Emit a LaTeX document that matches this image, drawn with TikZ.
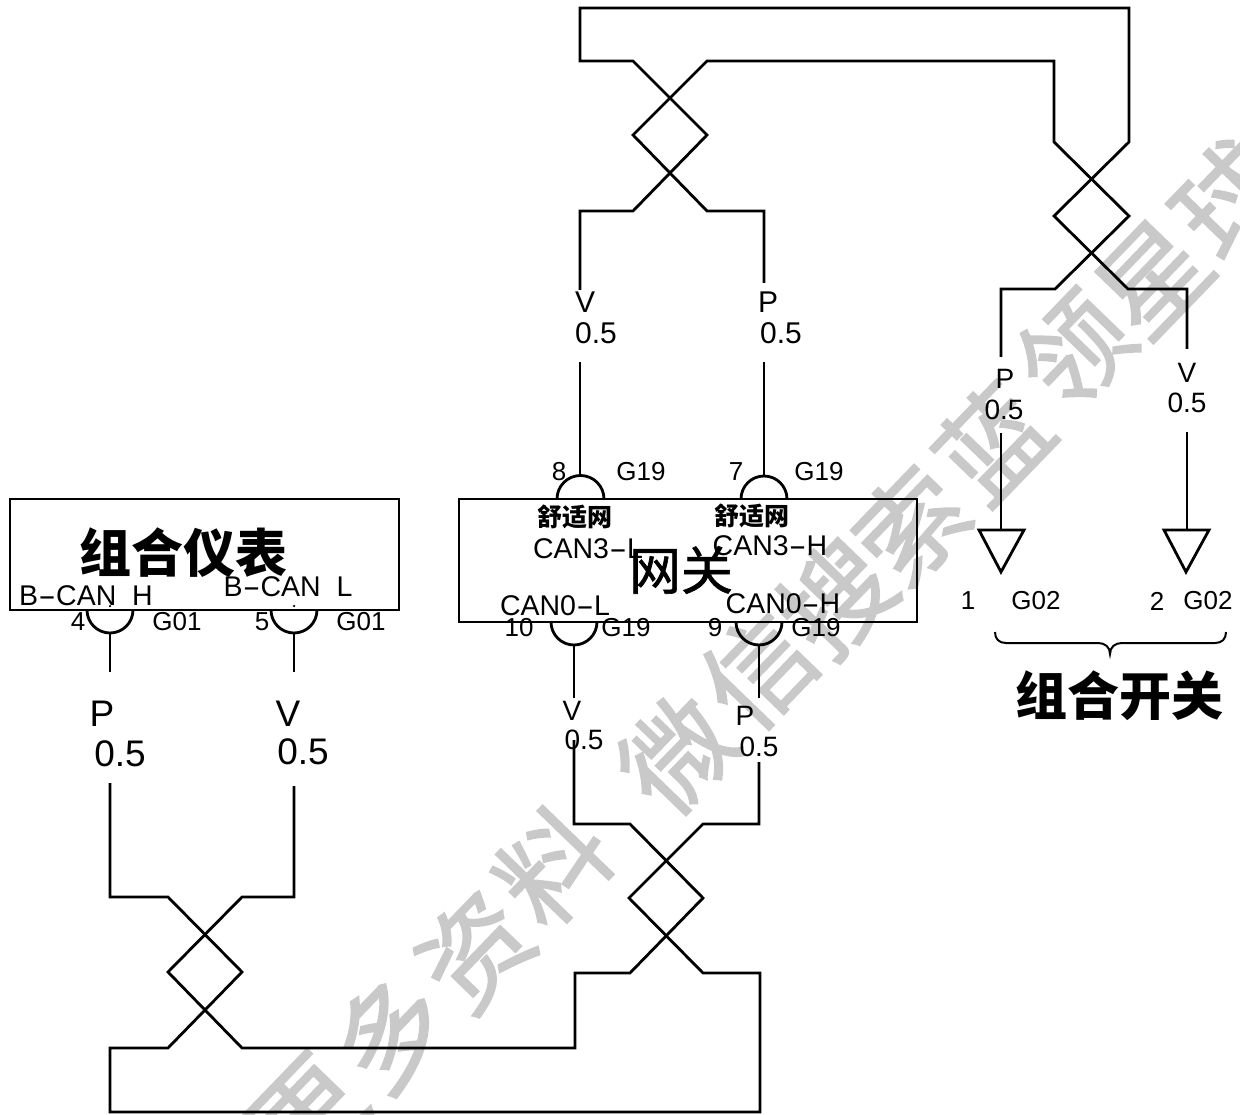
\documentclass[tikz,border=0pt]{standalone}
\usepackage{fontspec}
\setmainfont{Liberation Sans}
\newfontfamily\cjk{Noto Sans CJK SC}
\newfontfamily\wmk[FakeBold=1.6]{Noto Sans CJK SC}
\newfontfamily\gwf[FakeBold=1.2]{Noto Sans CJK SC}
\newcommand{\hy}{\scalebox{1.9}[1]{-}}
\newcommand{\fsz}[1]{\fontsize{#1}{#1}\selectfont}
\tikzset{
  wire/.style={line width=2.8pt,line join=miter,black},
  tag/.style={inner sep=0pt,font=\fsz{26}},
  wide/.style={inner sep=0pt,font=\fsz{28.5}},
  big/.style={inner sep=0pt,font=\fsz{37}},
  mid/.style={inner sep=0pt,font=\fsz{30}},
  sml/.style={inner sep=0pt,font=\fsz{28}},
  titletext/.style={inner sep=0pt,font=\cjk\bfseries\fsz{52}},
  gatetext/.style={inner sep=0pt,font=\gwf\fsz{52}},
  comfort/.style={inner sep=0pt,font=\cjk\bfseries\fsz{25}},
  wmark/.style={inner sep=0pt,rotate=46,text=black!21,font=\wmk\fsz{108}},
  dotmark/.style={fill=black,inner sep=0pt,minimum size=2.5pt,circle}
}
\begin{document}
\begin{tikzpicture}[x=1pt,y=-1pt]
\useasboundingbox (0,0) rectangle (1240,1115);
% watermark
\node[wmark] (w1) at (308,1115) {更};
\node[wmark] (w2) at (390,1033) {多};
\node[wmark] (w3) at (475,951) {资};
\node[wmark] (w4) at (553,866) {料};
\node[wmark] (w5) at (677,754) {微};
\node[wmark] (w6) at (758,670) {信};
\node[wmark] (w7) at (836,598) {搜};
\node[wmark] (w8) at (911,525) {索};
\node[wmark] (w9) at (992,442) {蓝};
\node[wmark] (w10) at (1074,350) {领};
\node[wmark] (w11) at (1153,278) {星};
\node[wmark] (w12) at (1230,198) {球};
% boxes
\coordinate (ia) at (10,499); \coordinate (ib) at (399,610);
\coordinate (ga) at (459,499); \coordinate (gb) at (917,622);
\draw[wire] (ia) rectangle (ib);
\draw[wire] (ga) rectangle (gb);
% pin arcs
\coordinate (p4) at (87,610); \coordinate (p5) at (271,610);
\coordinate (p10) at (551,622); \coordinate (p9) at (736,622);
\coordinate (p8) at (557,499); \coordinate (p7) at (741,499);
\draw[wire] (p4) arc[start angle=180,end angle=0,radius=23];
\draw[wire] (p5) arc[start angle=180,end angle=0,radius=23];
\draw[wire] (p10) arc[start angle=180,end angle=0,radius=23];
\draw[wire] (p9) arc[start angle=180,end angle=0,radius=23];
\draw[wire] (p8) arc[start angle=180,end angle=360,radius=23.5];
\draw[wire] (p7) arc[start angle=180,end angle=360,radius=23];
% texts: instrument
\node[titletext] (inst) at (183,553) {组合仪表};
\node[wide] (bh) at (86,596) {B\hy CAN\ \ H};
\node[wide] (bl) at (288,587) {B\hy CAN\ \ L};
\node[tag] (n4) at (78,622) {4};
\node[tag] (g4) at (177,622) {G01};
\node[tag] (n5) at (262,622) {5};
\node[tag] (g5) at (361,622) {G01};
\node[dotmark] (d4) at (110,606) {};
\node[dotmark] (d5) at (294,606) {};
% texts: gateway
\node[gatetext] (gate) at (681,570) {网关};
\node[comfort] (c8) at (575,517) {舒适网};
\node[comfort] (c7) at (752,516) {舒适网};
\node[wide] (can3l) at (588,549) {CAN3\hy L};
\node[wide] (can3h) at (770,546) {CAN3\hy H};
\node[wide] (can0l) at (555,606) {CAN0\hy L};
\node[wide] (can0h) at (783,604) {CAN0\hy H};
\node[tag] (n8) at (559,472) {8};
\node[tag] (g8) at (641,472) {G19};
\node[tag] (n7) at (736,472) {7};
\node[tag] (g7) at (819,472) {G19};
\node[tag] (n10) at (519,628) {10};
\node[tag] (g10) at (626,628) {G19};
\node[tag] (n9) at (715,628) {9};
\node[tag] (g9) at (816,628) {G19};
% wire labels
\node[big] (lp1) at (102,714) {P};
\node[big] (l51) at (120,754) {0.5};
\node[big] (lv1) at (288,714) {V};
\node[big] (l52) at (303,752) {0.5};
\node[sml] (lv2) at (572,711) {V};
\node[sml] (l53) at (584,740) {0.5};
\node[sml] (lp2) at (745,716) {P};
\node[sml] (l54) at (759,747) {0.5};
\node[mid] (lv3) at (585,302) {V};
\node[mid] (l55) at (596,333) {0.5};
\node[mid] (lp3) at (768,302) {P};
\node[mid] (l56) at (781,333) {0.5};
\node[sml] (lp4) at (1005,379) {P};
\node[sml] (l57) at (1004,410) {0.5};
\node[sml] (lv4) at (1187,373) {V};
\node[sml] (l58) at (1187,403) {0.5};
% pin stubs
\coordinate (a1) at (110,633); \coordinate (a2) at (110,672);
\coordinate (a3) at (110,783);
\coordinate (b1) at (294,633); \coordinate (b2) at (294,672);
\coordinate (b3) at (294,786);
\coordinate (c1) at (574,645); \coordinate (c2) at (574,698);
\coordinate (c3) at (574,740);
\coordinate (e1) at (759,645); \coordinate (e2) at (759,698);
\coordinate (e3) at (759,762);
\coordinate (f1) at (580,477); \coordinate (f2) at (580,362);
\coordinate (f3) at (580,290);
\coordinate (h1) at (764,477); \coordinate (h2) at (764,362);
\coordinate (h3) at (764,283);
\draw[wire] (a1) -- (a2);
\draw[wire] (b1) -- (b2);
\draw[wire] (c1) -- (c2);
\draw[wire] (e1) -- (e2);
\draw[wire] (f1) -- (f2);
\draw[wire] (h1) -- (h2);
% long wire, instrument P to gateway P
\coordinate (t1) at (110,897); \coordinate (t2) at (168,897);
\coordinate (t3) at (242,972); \coordinate (t4) at (168,1048);
\coordinate (t5) at (110,1048); \coordinate (t6) at (110,1112);
\coordinate (t7) at (760,1112); \coordinate (t8) at (760,973);
\coordinate (t9) at (703,973); \coordinate (t10) at (629,898);
\coordinate (t11) at (703,824); \coordinate (t12) at (759,824);
\draw[wire] (a3) -- (t1) -- (t2) -- (t3) -- (t4) -- (t5) -- (t6) -- (t7) -- (t8) -- (t9) -- (t10) -- (t11) -- (t12) -- (e3);
% long wire, instrument V to gateway V
\coordinate (s1) at (294,897); \coordinate (s2) at (242,897);
\coordinate (s3) at (168,972); \coordinate (s4) at (242,1048);
\coordinate (s5) at (575,1048); \coordinate (s6) at (575,973);
\coordinate (s7) at (630,973); \coordinate (s8) at (703,898);
\coordinate (s9) at (630,824); \coordinate (s10) at (574,824);
\draw[wire] (b3) -- (s1) -- (s2) -- (s3) -- (s4) -- (s5) -- (s6) -- (s7) -- (s8) -- (s9) -- (s10) -- (c3);
% upper wire, gateway V to switch V
\coordinate (u1) at (580,211); \coordinate (u2) at (633,211);
\coordinate (u3) at (707,135); \coordinate (u4) at (633,61);
\coordinate (u5) at (580,61); \coordinate (u6) at (580,8);
\coordinate (u7) at (1129,8); \coordinate (u8) at (1129,142);
\coordinate (u9) at (1054,216); \coordinate (u10) at (1128,289);
\coordinate (u11) at (1187,289); \coordinate (u12) at (1187,349);
\draw[wire] (f3) -- (u1) -- (u2) -- (u3) -- (u4) -- (u5) -- (u6) -- (u7) -- (u8) -- (u9) -- (u10) -- (u11) -- (u12);
% upper wire, gateway P to switch P
\coordinate (v1) at (764,211); \coordinate (v2) at (707,211);
\coordinate (v3) at (633,135); \coordinate (v4) at (707,61);
\coordinate (v5) at (1054,61); \coordinate (v6) at (1054,142);
\coordinate (v7) at (1129,216); \coordinate (v8) at (1055,289);
\coordinate (v9) at (1001,289); \coordinate (v10) at (1001,357);
\draw[wire] (h3) -- (v1) -- (v2) -- (v3) -- (v4) -- (v5) -- (v6) -- (v7) -- (v8) -- (v9) -- (v10);
% grounds
\coordinate (k1) at (1001,433); \coordinate (k2) at (1001,530);
\coordinate (m1) at (1187,432); \coordinate (m2) at (1187,530);
\draw[wire] (k1) -- (k2);
\draw[wire] (m1) -- (m2);
\coordinate (k3) at (979,530); \coordinate (k4) at (1024,530); \coordinate (k5) at (1001,572);
\coordinate (m3) at (1164,530); \coordinate (m4) at (1209,530); \coordinate (m5) at (1186,572);
\draw[wire] (k3) -- (k4) -- (k5) -- cycle;
\draw[wire] (m3) -- (m4) -- (m5) -- cycle;
\node[tag] (n1) at (968,601) {1};
\node[tag] (g1) at (1036,601) {G02};
\node[tag] (n2) at (1157,601) {2};
\node[tag] (g2) at (1208,601) {G02};
% brace
\coordinate (q1) at (995,632); \coordinate (q2) at (1006,643);
\coordinate (q3) at (1098,643); \coordinate (q4) at (1110,654);
\coordinate (q5) at (1122,643); \coordinate (q6) at (1215,643);
\coordinate (q7) at (1226,632);
\draw[line width=2pt] (q1) .. controls (995,639) and (999,643) .. (q2) -- (q3) .. controls (1105,643) and (1110,647) .. (q4) .. controls (1110,647) and (1115,643) .. (q5) -- (q6) .. controls (1222,643) and (1226,639) .. (q7);
\node[titletext] (sw) at (1119,696) {组合开关};
\end{tikzpicture}
\end{document}
